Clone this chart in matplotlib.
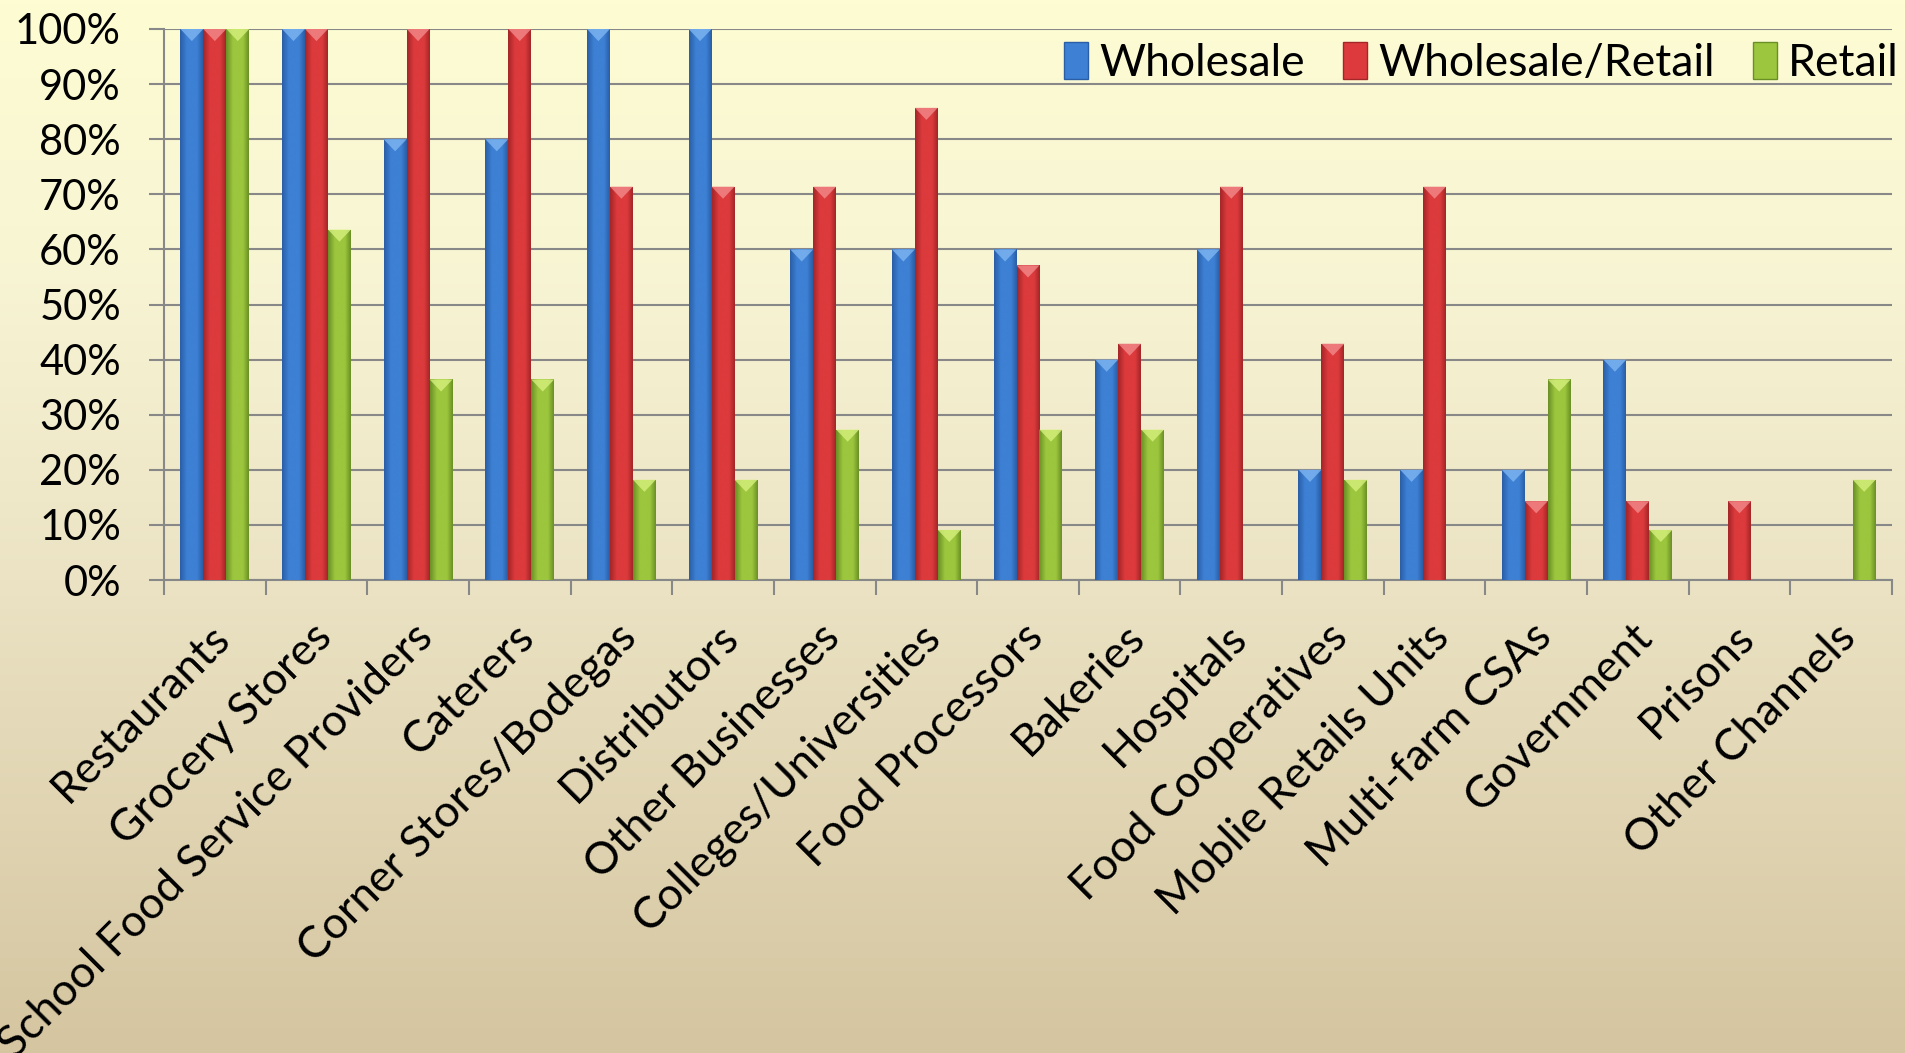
import numpy as np
import matplotlib
matplotlib.use("Agg")
import matplotlib.pyplot as plt
import matplotlib.transforms as mtransforms
from matplotlib.colors import LinearSegmentedColormap
from matplotlib.patches import Patch, Polygon

plt.rcParams["font.family"] = ["Lato", "DejaVu Sans"]

# ── data ──────────────────────────────────────────────────────────────
categories = ["Restaurants", "Grocery Stores", "School Food Service Providers",
              "Caterers", "Corner Stores/Bodegas", "Distributors",
              "Other Businesses", "Colleges/Universities", "Food Processors",
              "Bakeries", "Hospitals", "Food Cooperatives",
              "Moblie Retails Units", "Multi-farm CSAs", "Government",
              "Prisons", "Other Channels"]
wholesale        = [100, 100, 80, 80, 100, 100, 60, 60, 60, 40, 60, 20, 20, 20, 40, 0, 0]
wholesale_retail = [100, 100, 100, 100, 71.4, 71.4, 71.4, 85.7, 57.1, 42.9, 71.4,
                    42.9, 71.4, 14.3, 14.3, 14.3, 0]
retail           = [100, 63.6, 36.4, 36.4, 18.2, 18.2, 27.3, 9.1, 27.3, 27.3, 0,
                    18.2, 0, 36.4, 9.1, 0, 18.2]
series_names = ["Wholesale", "Wholesale/Retail", "Retail"]

# (edge, centre, highlight) per series
palette = [("#2a5ea6", "#3d80d4", "#7fb6f2"),
           ("#a42628", "#dc3a3c", "#f28a8c"),
           ("#6a8f25", "#9cc63d", "#d6f07e")]

# ── figure + gradient background ──────────────────────────────────────
fig = plt.figure(figsize=(19.05, 10.53), dpi=100)
bg = fig.add_axes([0, 0, 1, 1], zorder=-10)
bg_cmap = LinearSegmentedColormap.from_list(
    "bg", [(0.0, "#d5c5a0"), (0.45, "#ebe3c4"), (0.75, "#f8f5d4"), (1.0, "#fdfcd2")])
bg.imshow(np.linspace(0, 1, 256).reshape(-1, 1), aspect="auto", cmap=bg_cmap,
          origin="lower", extent=[0, 1, 0, 1])
bg.axis("off")

ax = fig.add_axes([164 / 1905, 1 - 580 / 1053, (1892 - 164) / 1905, (580 - 29) / 1053])
ax.set_facecolor("none")

x = np.arange(len(categories))
w = 0.226
grid_col = "#888888"

for i, vals in enumerate([wholesale, wholesale_retail, retail]):
    edge, mid, hi = palette[i]
    cmap = LinearSegmentedColormap.from_list(
        f"b{i}", [(0, edge), (0.3, mid), (0.5, mid), (0.75, mid), (1, edge)])
    pos = x + (i - 1) * w
    v = np.array(vals) / 100.0
    bars = ax.bar(pos, v, width=w, color="none", zorder=3)
    for rect, h in zip(bars, v):
        if h <= 0:
            continue
        x0 = rect.get_x()
        x1 = x0 + rect.get_width()
        im = ax.imshow(np.linspace(0, 1, 64).reshape(1, -1), cmap=cmap, aspect="auto",
                       extent=[x0, x1, 0, h], zorder=3, interpolation="bilinear")
        im.set_clip_path(rect)
        tri = Polygon([[x0, h], [x1, h], [(x0 + x1) / 2, h - 0.022]], closed=True,
                      facecolor=hi, edgecolor="none", alpha=0.8, zorder=4)
        ax.add_patch(tri)

ax.set_xlim(-0.5, len(categories) - 0.5)
ax.set_ylim(0, 1)

# y axis
ax.set_yticks(np.arange(0, 1.01, 0.1))
ax.set_yticklabels([f"{int(round(t * 100))}%" for t in np.arange(0, 1.01, 0.1)])
ax.yaxis.grid(True, color=grid_col, lw=1.5, zorder=0)
ax.set_axisbelow(True)
ax.tick_params(axis="y", length=11, width=1.5, color=grid_col, pad=20,
               labelsize=30)

# x axis: ticks at boundaries, labels at centres
ax.set_xticks(np.arange(-0.5, len(categories), 1.0), minor=True)
ax.set_xticks(x)
ax.set_xticklabels(categories, rotation=45, ha="right", rotation_mode="anchor",
                   fontsize=32)
ax.tick_params(axis="x", which="major", length=0, pad=26)
ax.tick_params(axis="x", which="minor", length=11, width=1.5, color=grid_col)
offset = mtransforms.ScaledTranslation(-6 / 100, 0, fig.dpi_scale_trans)
for lbl in ax.get_xticklabels():
    lbl.set_transform(lbl.get_transform() + offset)

for s in ["top", "right"]:
    ax.spines[s].set_visible(False)
for s in ["left", "bottom"]:
    ax.spines[s].set_color(grid_col)
    ax.spines[s].set_linewidth(1.5)

handles = [Patch(facecolor=palette[i][1], edgecolor=palette[i][0], lw=1)
           for i in range(3)]
ax.legend(handles, series_names, loc="center right", bbox_to_anchor=(1.004, 0.938),
          ncol=3, frameon=False, fontsize=32, handlelength=0.55, handleheight=0.9,
          handletextpad=0.25, columnspacing=0.85, borderaxespad=0.0,
          borderpad=0.0)

fig.savefig("out.png", dpi=100)
